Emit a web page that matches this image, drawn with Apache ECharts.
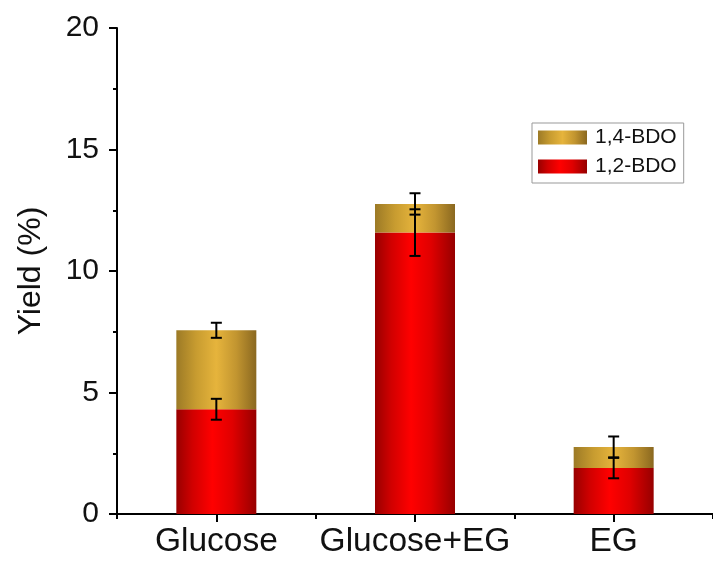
<!DOCTYPE html>
<html>
<head>
<meta charset="utf-8">
<style>
  html, body { margin: 0; padding: 0; background: #fff; }
  #chart { width: 713px; height: 563px; }
</style>
<script src="https://cdn.jsdelivr.net/npm/echarts@6/dist/echarts.min.js"></script>
</head>
<body>
<div id="chart"></div>
<script>
// Feedstocks on the x axis
const categories = ['Glucose', 'Glucose+EG', 'EG'];
// Yields (%) of each product, stacked
const bdo12 = [4.31, 11.58, 1.89];
const bdo14 = [3.25, 1.18, 0.87];
// Standard deviations
const err12 = [0.43, 0.96, 0.42];
const err14 = [0.31, 0.44, 0.43];
// Y axis ticks
const yTicks = [0, 5, 10, 15, 20];

const FONT = "'Liberation Sans', Arial, sans-serif";

function hGradient(stops) {
  return new echarts.graphic.LinearGradient(0, 0, 1, 0,
    stops.map(([offset, color]) => ({ offset, color })));
}

const redFill = hGradient([[0, '#980000'], [0.2, '#d00000'], [0.45, '#ff0000'], [0.7, '#e00000'], [1, '#960000']]);
const goldFill = hGradient([[0, '#9c7a26'], [0.25, '#c89c30'], [0.5, '#e6b43c'], [0.75, '#c29530'], [1, '#8a6820']]);

// Error bars sit at the top of each stacked segment
const errData = [];
categories.forEach((c, i) => {
  errData.push([i, bdo12[i], err12[i]]);
  errData.push([i, bdo12[i] + bdo14[i], err14[i]]);
});

function renderErr(params, api) {
  const idx = api.value(0);
  const center = api.value(1);
  const e = api.value(2);
  const top = api.coord([idx, center + e]);
  const bot = api.coord([idx, center - e]);
  const x = top[0];
  const half = 5.5;
  const style = { stroke: '#000', lineWidth: 2 };
  return {
    type: 'group',
    children: [
      { type: 'line', shape: { x1: x, y1: top[1], x2: x, y2: bot[1] }, style },
      { type: 'line', shape: { x1: x - half, y1: top[1], x2: x + half, y2: top[1] }, style },
      { type: 'line', shape: { x1: x - half, y1: bot[1], x2: x + half, y2: bot[1] }, style }
    ]
  };
}

const chart = echarts.init(document.getElementById('chart'), null, { renderer: 'canvas' });
chart.setOption({
  animation: false,
  backgroundColor: '#fff',
  textStyle: { fontFamily: FONT },
  grid: { left: 117, top: 28, width: 603, bottom: 49, containLabel: false },
  legend: {
    orient: 'vertical',
    left: 532,
    top: 123,
    data: ['1,4-BDO', '1,2-BDO'],
    itemWidth: 49,
    itemHeight: 14,
    itemGap: 8,
    padding: [4, 7, 6, 6],
    borderColor: '#999',
    borderWidth: 1,
    borderRadius: 0,
    textStyle: { fontFamily: FONT, fontSize: 21, color: '#111', padding: [0, 0, 0, 3] },
    icon: 'rect'
  },
  xAxis: [
    {
      type: 'category',
      data: categories,
      boundaryGap: true,
      axisLine: { show: true, lineStyle: { color: '#000', width: 2 } },
      axisTick: { show: true, alignWithLabel: true, length: 8, lineStyle: { color: '#000', width: 2 } },
      axisLabel: { fontFamily: FONT, fontSize: 33.5, color: '#111', margin: 11, interval: 0, hideOverlap: false },
      splitLine: { show: false }
    },
    {
      // boundary ticks between the categories
      type: 'category',
      data: categories,
      position: 'bottom',
      boundaryGap: true,
      axisLine: { show: false },
      axisTick: { show: true, alignWithLabel: false, interval: 0, length: 5, lineStyle: { color: '#000', width: 2 } },
      axisLabel: { show: false },
      splitLine: { show: false }
    }
  ],
  yAxis: {
    type: 'value',
    min: yTicks[0],
    max: yTicks[yTicks.length - 1],
    interval: 5,
    name: 'Yield (%)',
    nameLocation: 'middle',
    nameGap: 70,
    nameTextStyle: { fontFamily: FONT, fontSize: 32, color: '#111' },
    axisLine: { show: true, lineStyle: { color: '#000', width: 2 } },
    axisTick: { show: true, length: 8, lineStyle: { color: '#000', width: 2 } },
    minorTick: { show: true, splitNumber: 2, length: 4, lineStyle: { color: '#000', width: 2 } },
    axisLabel: { fontFamily: FONT, fontSize: 30, color: '#111', margin: 18 },
    splitLine: { show: false }
  },
  series: [
    {
      name: '1,2-BDO',
      type: 'bar',
      stack: 'yield',
      data: bdo12,
      barWidth: 80,
      itemStyle: { color: redFill }
    },
    {
      name: '1,4-BDO',
      type: 'bar',
      stack: 'yield',
      data: bdo14,
      barWidth: 80,
      itemStyle: { color: goldFill }
    },
    {
      name: 'err',
      type: 'custom',
      renderItem: renderErr,
      data: errData,
      z: 10,
      silent: true
    }
  ]
});
</script>
</body>
</html>
